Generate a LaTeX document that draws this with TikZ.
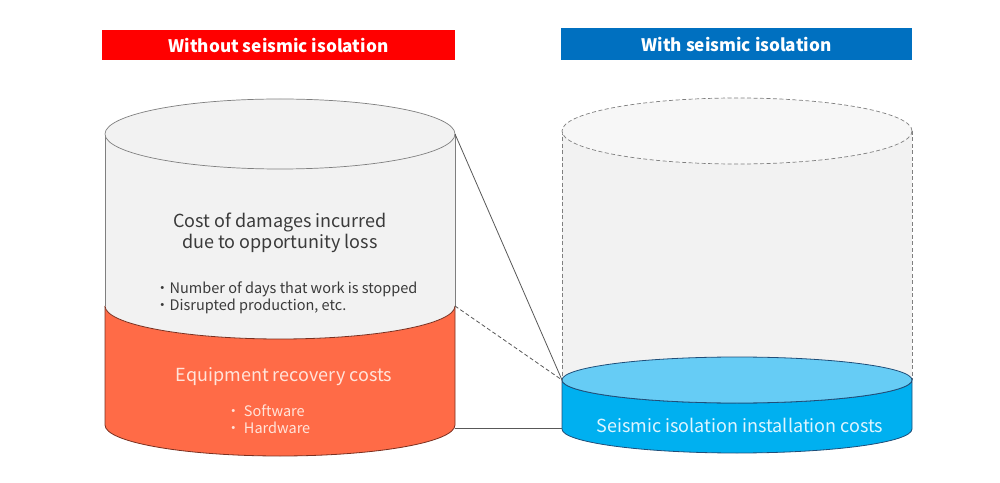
\documentclass[tikz,border=0pt]{standalone}
\usepackage{fontspec}
\newfontfamily\jp{Noto Sans CJK JP}
\definecolor{hdrred}{HTML}{FF0000}
\definecolor{hdrblue}{HTML}{0070C0}
\definecolor{greyfill}{HTML}{F2F2F2}
\definecolor{greyline}{HTML}{7F7F7F}
\definecolor{orangefill}{HTML}{FF6B47}
\definecolor{orangeline}{HTML}{7A3020}
\definecolor{bluefill}{HTML}{00B0F0}
\definecolor{bluetop}{HTML}{66CCF5}
\definecolor{blueline}{HTML}{1F4E79}
\definecolor{textgrey}{HTML}{3A3A3A}
\definecolor{orangetext}{HTML}{FFE4DA}
\definecolor{bluetext}{HTML}{DDF5FF}
\tikzset{
  header/.style={minimum height=30pt, inner sep=0pt, text=white, font=\jp\bfseries\fontsize{17.2}{20}\selectfont},
  bigtext/.style={font=\jp\fontsize{18}{21}\selectfont, align=center, inner sep=0pt},
  smalltext/.style={font=\jp\fontsize{14.5}{17.5}\selectfont, align=left, inner sep=0pt},
  greyedge/.style={draw=greyline, line width=0.7pt},
  dsh/.style={dash pattern=on 4pt off 2.5pt},
  conn/.style={draw=textgrey!85, line width=0.8pt},
}
\begin{document}
\begin{tikzpicture}[x=1pt,y=1pt]
\useasboundingbox (0,0) rectangle (1000,482);
% headers
\node[header, fill=hdrred, minimum width=353pt] (hL) at (278.5,437) {Without seismic isolation};
\node[header, fill=hdrblue, minimum width=351pt, minimum height=32pt] (hR) at (736.5,438) {With seismic isolation};

% ---------- left cylinder ----------
\fill[orangefill] (105,176) -- (105,57) arc[start angle=180, end angle=360, x radius=175, y radius=31]
  -- (455,176) arc[start angle=0, end angle=-180, x radius=175, y radius=33] -- cycle;
\draw[orangeline, line width=0.8pt] (105,176) -- (105,57) arc[start angle=180, end angle=360, x radius=175, y radius=31] -- (455,176);
\fill[greyfill] (105,348) -- (105,176) arc[start angle=180, end angle=360, x radius=175, y radius=33]
  -- (455,348) arc[start angle=0, end angle=180, x radius=175, y radius=35] -- cycle;
\draw[greyedge] (105,348) -- (105,176);
\draw[greyedge] (455,348) -- (455,176);
\draw[orangeline, line width=0.8pt] (105,176) arc[start angle=180, end angle=360, x radius=175, y radius=33];
\draw[greyedge, fill=greyfill] (280,348) ellipse[x radius=175, y radius=35];

\coordinate (Ltop) at (455,348);
\coordinate (Lmid) at (455,176);
\coordinate (Lbot) at (455,54);

% ---------- right dashed cylinder ----------
\fill[greyfill] (562,351) -- (562,102) -- (912,102) -- (912,351) -- cycle;
\draw[greyedge, dsh] (562,351) -- (562,102);
\draw[greyedge, dsh] (912,351) -- (912,102);
\draw[greyedge, dsh, fill=greyfill!60!white] (737,351) ellipse[x radius=175, y radius=33];

% ---------- blue cylinder ----------
\draw[blueline, line width=0.8pt, fill=bluefill] (562,102) -- (562,53) arc[start angle=180, end angle=360, x radius=175, y radius=24]
  -- (912,102) arc[start angle=0, end angle=-180, x radius=175, y radius=23] -- cycle;
\draw[blueline, line width=0.8pt, fill=bluetop] (737,102) ellipse[x radius=175, y radius=23];

\coordinate (Rtop) at (562,102);
\coordinate (Rbot) at (562,54);

% ---------- connectors ----------
\draw[conn] (Ltop) -- (Rtop);
\draw[conn, dsh] (Lmid) -- (Rtop);
\draw[conn] (Lbot) -- (Rbot);

% ---------- texts ----------
\node[bigtext, text=textgrey] (t1) at (280,249) {Cost of damages incurred\\due to opportunity loss};
\node[smalltext, text=textgrey, anchor=west] (t2) at (155,184) {・Number of days that work is stopped\\・Disrupted production, etc.};
\node[bigtext, text=orangetext] (t3) at (284,105) {Equipment recovery costs};
\node[smalltext, text=orangetext, anchor=west] (t4) at (226,63) {・ Software\\・ Hardware};
\node[bigtext, text=bluetext] (t5) at (740,57) {Seismic isolation installation costs};
\end{tikzpicture}
\end{document}
